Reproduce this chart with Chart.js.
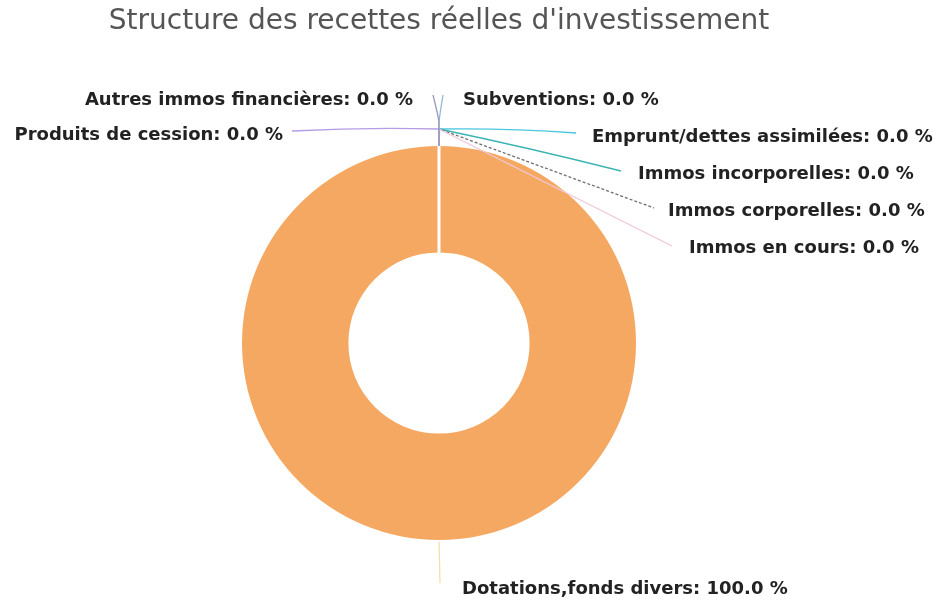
<!DOCTYPE html>
<html>
<head>
<meta charset="utf-8">
<script src="https://cdn.jsdelivr.net/npm/chart.js@4.4.1/dist/chart.umd.min.js"></script>
<style>
  html, body { margin: 0; padding: 0; background: #ffffff; }
  #wrap { width: 941px; height: 602px; position: relative; }
</style>
</head>
<body>
<div id="wrap"><canvas id="c" width="941" height="602"></canvas></div>
<script>
const titleText = "Structure des recettes réelles d'investissement";
const categories = [
  "Subventions",
  "Emprunt/dettes assimilées",
  "Immos incorporelles",
  "Immos corporelles",
  "Immos en cours",
  "Dotations,fonds divers",
  "Produits de cession",
  "Autres immos financières"
];
const shareValues = [0, 0, 0, 0, 0, 100, 0, 0];
const sliceColors = [
  "#8fb8d8", "#4cc6e0", "#3ab3b3", "#6f6f6f",
  "#efc8da", "#f5a862", "#b49ce6", "#9d98b8"
];

// label layout (relative to doughnut centre): text x, text y offset, line end
const labelLayout = [
  { align: "left",  tx: 463, dy: -243, ex: 443, ey: -248, via: -220, dash: false, curve: 0 },
  { align: "left",  tx: 592, dy: -206, ex: 576, ey: -210, via: null, dash: false, curve: -3 },
  { align: "left",  tx: 638, dy: -169, ex: 621, ey: -172, via: null, dash: false, curve: -2 },
  { align: "left",  tx: 668, dy: -132, ex: 654, ey: -135, via: null, dash: true,  curve: 0 },
  { align: "left",  tx: 689, dy: -95,  ex: 672, ey: -97,  via: null, dash: false, curve: 0 },
  { align: "left",  tx: 462, dy: 246,  ex: 440, ey: 240,  via: null, dash: false, curve: 0 },
  { align: "right", tx: 283, dy: -208, ex: 292, ey: -212, via: null, dash: false, curve: -3 },
  { align: "right", tx: 413, dy: -243, ex: 433, ey: -248, via: -220, dash: false, curve: 0 }
];

const pct = v => {
  const total = shareValues.reduce((a, b) => a + b, 0);
  return (total ? (v / total) * 100 : 0).toFixed(1) + " %";
};

const outsideLabels = {
  id: "outsideLabels",
  afterDatasetsDraw(chart) {
    const ctx = chart.ctx;
    const meta = chart.getDatasetMeta(0);
    ctx.save();
    meta.data.forEach((arc, i) => {
      const p = arc.getProps(["x", "y", "startAngle", "endAngle", "outerRadius", "innerRadius"], true);
      if (shareValues[i] > 0) {
        ctx.strokeStyle = "#ffffff";
        ctx.lineWidth = 3;
        ctx.beginPath();
        ctx.moveTo(p.x + Math.cos(p.startAngle) * (p.innerRadius - 1), p.y + Math.sin(p.startAngle) * (p.innerRadius - 1));
        ctx.lineTo(p.x + Math.cos(p.startAngle) * (p.outerRadius + 1), p.y + Math.sin(p.startAngle) * (p.outerRadius + 1));
        ctx.stroke();
      }
    });
    meta.data.forEach((arc, i) => {
      const p = arc.getProps(["x", "y", "startAngle", "endAngle", "outerRadius"], true);
      const L = labelLayout[i];
      const mid = (p.startAngle + p.endAngle) / 2;
      const ax = p.x + Math.cos(mid) * p.outerRadius;
      const ay = p.y + Math.sin(mid) * p.outerRadius;
      const bx = p.x + Math.cos(mid) * (p.outerRadius + 17);
      const by = p.y + Math.sin(mid) * (p.outerRadius + 17);
      ctx.strokeStyle = sliceColors[i];
      ctx.lineWidth = 1.3;
      ctx.setLineDash(L.dash ? [3, 2] : []);
      ctx.beginPath();
      if (shareValues[i] > 0) {
        const lx = p.x + Math.cos(mid) * (p.outerRadius + 2);
        const ly = p.y + Math.sin(mid) * (p.outerRadius + 2);
        ctx.strokeStyle = "#f1dfae";
        ctx.moveTo(lx, ly);
        ctx.lineTo(L.ex, p.y + L.ey);
      } else {
        ctx.moveTo(ax, ay);
        ctx.lineTo(bx, by);
        if (L.via !== null) {
          ctx.lineTo(bx, p.y + L.via);
          ctx.quadraticCurveTo(bx, p.y + L.via - 4, L.ex, p.y + L.ey);
        } else {
          ctx.quadraticCurveTo((bx + L.ex) / 2, (by + p.y + L.ey) / 2 + L.curve, L.ex, p.y + L.ey);
        }
      }
      ctx.stroke();
      ctx.setLineDash([]);
      ctx.fillStyle = "#222222";
      ctx.font = "bold 18px 'DejaVu Sans'";
      ctx.textAlign = L.align;
      ctx.textBaseline = "middle";
      ctx.fillText(categories[i] + ": " + pct(shareValues[i]), L.tx, p.y + L.dy);
    });
    ctx.restore();
  }
};

new Chart(document.getElementById("c"), {
  type: "doughnut",
  data: {
    labels: categories,
    datasets: [{
      data: shareValues,
      backgroundColor: sliceColors,
      borderWidth: 0
    }]
  },
  options: {
    responsive: false,
    animation: false,
    cutout: "46%",
    layout: { padding: { left: 0, right: 63, top: 0, bottom: 62 } },
    plugins: {
      legend: { display: false },
      tooltip: { enabled: false },
      title: {
        display: true,
        text: titleText,
        color: "#555555",
        font: { family: "'DejaVu Sans'", size: 28, weight: "normal" },
        padding: { top: 5, bottom: 107.4 }
      }
    }
  },
  plugins: [outsideLabels]
});
</script>
</body>
</html>
